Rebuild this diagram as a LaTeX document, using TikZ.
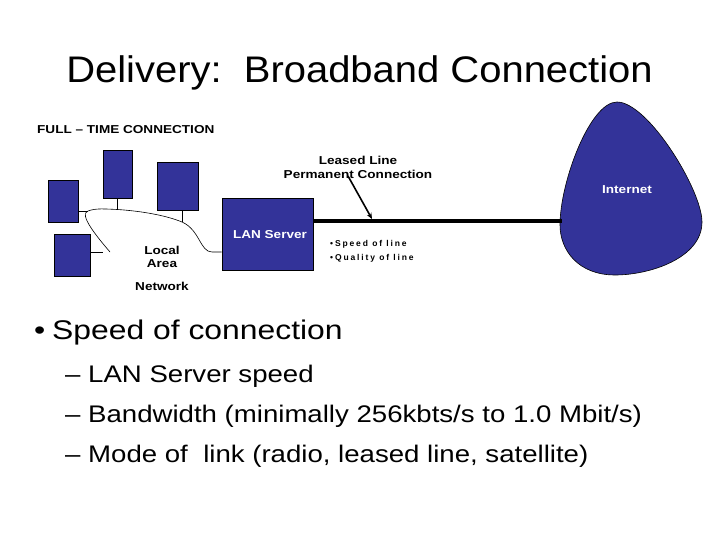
\documentclass[tikz,border=0pt]{standalone}
\usepackage{fontspec}
\setmainfont{Liberation Sans}
\newfontfamily\titlefont{Liberation Sans}[FakeStretch=1.08]
\newfontfamily\bulletfont{Liberation Sans}[FakeStretch=1.18]
\newfontfamily\subfont{Liberation Sans}[FakeStretch=1.15]
\newfontfamily\lblfont{Liberation Sans}[FakeStretch=1.18]
\newfontfamily\smallfont{Liberation Sans}[LetterSpace=22]
\usetikzlibrary{arrows.meta}
\definecolor{netblue}{RGB}{51,51,153}
\tikzset{
  comp/.style={draw=black, fill=netblue, line width=0.6pt, inner sep=0pt},
  lbl/.style={font=\lblfont\fontsize{11.5}{13}\selectfont\bfseries, inner sep=0pt},
  wlbl/.style={lbl, text=white},
  small/.style={font=\smallfont\fontsize{8.5}{9}\selectfont\bfseries, inner sep=0pt, anchor=base west},
  wire/.style={line width=0.6pt},
  body/.style={inner sep=0pt, anchor=base west},
}
\begin{document}
\begin{tikzpicture}[x=1pt,y=-1pt]
\useasboundingbox (0,0) rectangle (720,540);
% title
\node[body, anchor=base] (title) at (359.5,83) {\titlefont\fontsize{37}{40}\selectfont Delivery:\ \ Broadband Connection};
\node[lbl, anchor=base west] (full) at (37,134) {FULL – TIME CONNECTION};
% computers
\node[comp, minimum width=30pt, minimum height=42pt] (pcA) at (63,201) {};
\node[comp, minimum width=29pt, minimum height=48pt] (pcB) at (117.5,174) {};
\node[comp, minimum width=41pt, minimum height=48pt] (pcC) at (177.5,186) {};
\node[comp, minimum width=36pt, minimum height=42pt] (pcD) at (72,255) {};
\node[comp, minimum width=91pt, minimum height=72pt] (lan) at (267.5,234) {};
\node[wlbl] (lantext) at (270,235) {LAN Server};
% LAN cable
\coordinate (cA) at (88,211);
\coordinate (cB) at (117.5,209.5);
\coordinate (cC) at (182,222);
\coordinate (cD) at (110,252);
\coordinate (cL) at (212,252);
\draw[wire] (cD) .. controls (98,238) and (78,214) .. (cA)
  .. controls (96,208) and (105,209) .. (cB)
  .. controls (140,211) and (165,215) .. (cC)
  .. controls (200,230) and (200,252) .. (cL) -- (lan.west |- cL);
\draw[wire] (pcA.east |- cA) -- (cA);
\draw[wire] (pcB.south) -- (cB);
\draw[wire] (pcC.south -| cC) -- (cC);
\draw[wire] (pcD.east |- 0,252) -- (103,252);
\node[lbl] (local) at (162,250) {Local};
\node[lbl] (area) at (162,264) {Area};
\node[lbl] (network) at (162,286) {Network};
% internet
\draw[draw=black, fill=netblue, line width=0.6pt]
  (617,102) .. controls (648,102) and (702,190) .. (702,222)
  .. controls (702,258) and (650,275) .. (615,275)
  .. controls (578,275) and (560,250) .. (560,225)
  .. controls (560,182) and (590,102) .. (617,102);
\coordinate (inet) at (562,221);
\node[wlbl] (internet) at (627,190) {Internet};
% leased line
\draw[line width=4pt] (lan.east |- 0,221) -- (inet);
\coordinate (lineHit) at (372,219);
\coordinate (arrStart) at (348,176);
\node[lbl] (leased) at (358,160) {Leased Line};
\node[lbl] (perm) at (358,174) {Permanent Connection};
\draw[line width=1.6pt, -{Stealth[length=6pt,width=5pt]}] (arrStart) -- (lineHit);
\node[small] (s1) at (330,246) {•Speed of line};
\node[small] (s2) at (330,260) {•Quality of line};
% bullets
\node[body] (dot) at (34,339.5) {\bulletfont\fontsize{27}{30}\selectfont •};
\node[body] (b1) at (52,339.5) {\bulletfont\fontsize{27}{30}\selectfont Speed of connection};
\node[body] (b2) at (65,382) {\subfont\fontsize{24}{28}\selectfont – LAN Server speed};
\node[body] (b3) at (65,422) {\subfont\fontsize{24}{28}\selectfont – Bandwidth (minimally 256kbts/s to 1.0 Mbit/s)};
\node[body] (b4) at (65,462) {\subfont\fontsize{24}{28}\selectfont – Mode of\ \ link (radio, leased line, satellite)};
\end{tikzpicture}
\end{document}
